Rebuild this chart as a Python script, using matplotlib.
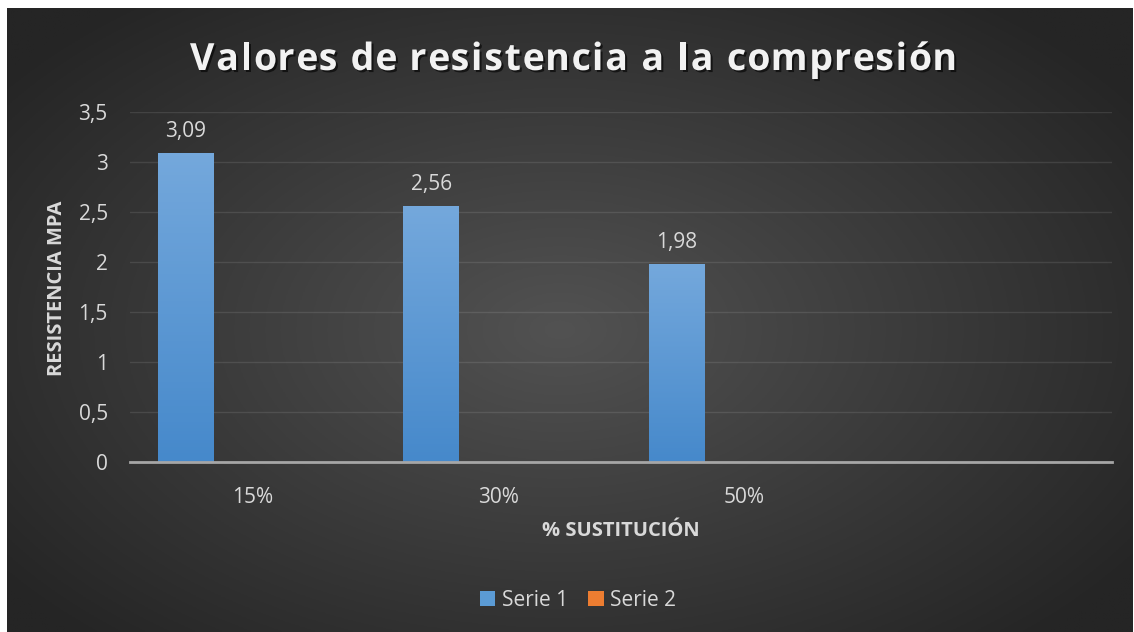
import numpy as np
import matplotlib
matplotlib.use('Agg')
import matplotlib.pyplot as plt
from matplotlib import patheffects as pe
from matplotlib.ticker import FuncFormatter

# datos del gráfico
categorias = ['15%', '30%', '50%', '']
serie1 = [3.09, 2.56, 1.98, 0]
serie2 = [0, 0, 0, 0]
ticks_y = [0, 0.5, 1, 1.5, 2, 2.5, 3, 3.5]

titulo = 'Valores de resistencia a la compresión'
etiqueta_x = '% SUSTITUCIÓN'
etiqueta_y = 'RESISTENCIA MPA'

W, H = 1134, 632
plt.rcParams['font.family'] = ['Open Sans', 'DejaVu Sans']
fig = plt.figure(figsize=(W / 100, H / 100), dpi=100, facecolor='white')

# fondo con degradado radial
bg = fig.add_axes([0, 0, 1, 1])
bg.set_xlim(0, W)
bg.set_ylim(H, 0)
bg.axis('off')
xx, yy = np.meshgrid(np.linspace(7, 1133, 400), np.linspace(8, 632, 250))
r = np.sqrt(((xx - 560) / 700) ** 2 + ((yy - 330) / 420) ** 2)
r = np.clip(r, 0, 1)
c0, c1 = np.array([0x52, 0x52, 0x52]) / 255, np.array([0x25, 0x25, 0x25]) / 255
img = c0[None, None, :] * (1 - r[..., None]) + c1[None, None, :] * r[..., None]
bg.imshow(img, extent=[7, 1133, 632, 8], aspect='auto', zorder=0)

# ejes principales
ax = fig.add_axes([130 / W, (H - 462) / H, (1112 - 130) / W, 350 / H])
ax.patch.set_alpha(0)
n = len(categorias)
x = np.arange(n)
ancho = 0.228
desp = -0.272

ax.set_yticks(ticks_y)
ax.yaxis.set_major_formatter(FuncFormatter(lambda v, p: ('%g' % v).replace('.', ',')))
ax.set_xticks(x)
ax.set_xticklabels(categorias)
ax.tick_params(axis='both', length=0, colors='#d9d9d9', labelsize=15)
ax.tick_params(axis='y', pad=16)
ax.tick_params(axis='x', pad=18)
for s in ['top', 'right', 'left']:
    ax.spines[s].set_visible(False)
ax.spines['bottom'].set_color('#a6a6a6')
ax.spines['bottom'].set_linewidth(2)
ax.spines['bottom'].set_zorder(5)
ax.grid(axis='y', color='#ffffff', alpha=0.1, linewidth=1)
ax.set_axisbelow(True)

# barras con degradado
grad = np.linspace(0, 1, 100)[:, None]
ctop, cbot = np.array([0x74, 0xa8, 0xdc]) / 255, np.array([0x46, 0x89, 0xcb]) / 255
gimg = ctop[None, None, :] * (1 - grad[..., None]) + cbot[None, None, :] * grad[..., None]
barras = ax.bar(x + desp, serie1, ancho, color='#5b9bd5', label='Serie 1', zorder=2)
for b in barras:
    if b.get_height() > 0:
        bx, bw, bh = b.get_x(), b.get_width(), b.get_height()
        im = ax.imshow(gimg, extent=[bx, bx + bw, 0, bh], aspect='auto', zorder=3)
        im.set_clip_path(b)
ax.bar(x + desp + ancho, serie2, ancho, color='#ed7d31', label='Serie 2', zorder=2)
ax.set_xlim(-0.5, n - 0.5)
ax.set_ylim(0, 3.5)

for xi, v in zip(x, serie1):
    if v > 0:
        ax.annotate(('%.2f' % v).replace('.', ','), (xi + desp, v), xytext=(0, 11.5),
                    textcoords='offset points', ha='center', va='baseline',
                    fontsize=15, color='#d9d9d9')

# título con espaciado entre letras
renderer = fig.canvas.get_renderer()
tprops = dict(fontsize=27, fontweight='bold', color='#f2f2f2')


def ancho_txt(s):
    t = fig.text(0, 0, s, **tprops)
    w = t.get_window_extent(renderer).width
    t.remove()
    return w


base = ancho_txt('xx')
anchos = [ancho_txt('x' + ch + 'x') - base for ch in titulo]
x_ini, x_fin = 190, 957
esp = (x_fin - x_ini - sum(anchos)) / (len(titulo) - 1)
pos = x_ini
sombra = [pe.withSimplePatchShadow(offset=(1.5, -1.5), shadow_rgbFace='black', alpha=0.6)]
for ch, w in zip(titulo, anchos):
    if ch != ' ':
        fig.text(pos / W, (H - 70) / H, ch, ha='left', va='baseline', path_effects=sombra, **tprops)
    pos += w + esp

fig.text(621 / W, (H - 531) / H, etiqueta_x, ha='center', va='center', fontsize=14.5,
         fontweight='bold', color='#d9d9d9')
fig.text(57 / W, (H - 288) / H, etiqueta_y, ha='center', va='center', rotation=90,
         fontsize=14.5, fontweight='bold', color='#d9d9d9')

# leyenda
h, l = ax.get_legend_handles_labels()
fig.legend(h, l, loc='center', bbox_to_anchor=(578 / W, (H - 600) / H), ncol=2, frameon=False,
           fontsize=15, labelcolor='#d9d9d9', handlelength=0.75, handleheight=0.75,
           handletextpad=0.3, columnspacing=1.0)

fig.savefig('out.png', dpi=100, facecolor='white')
